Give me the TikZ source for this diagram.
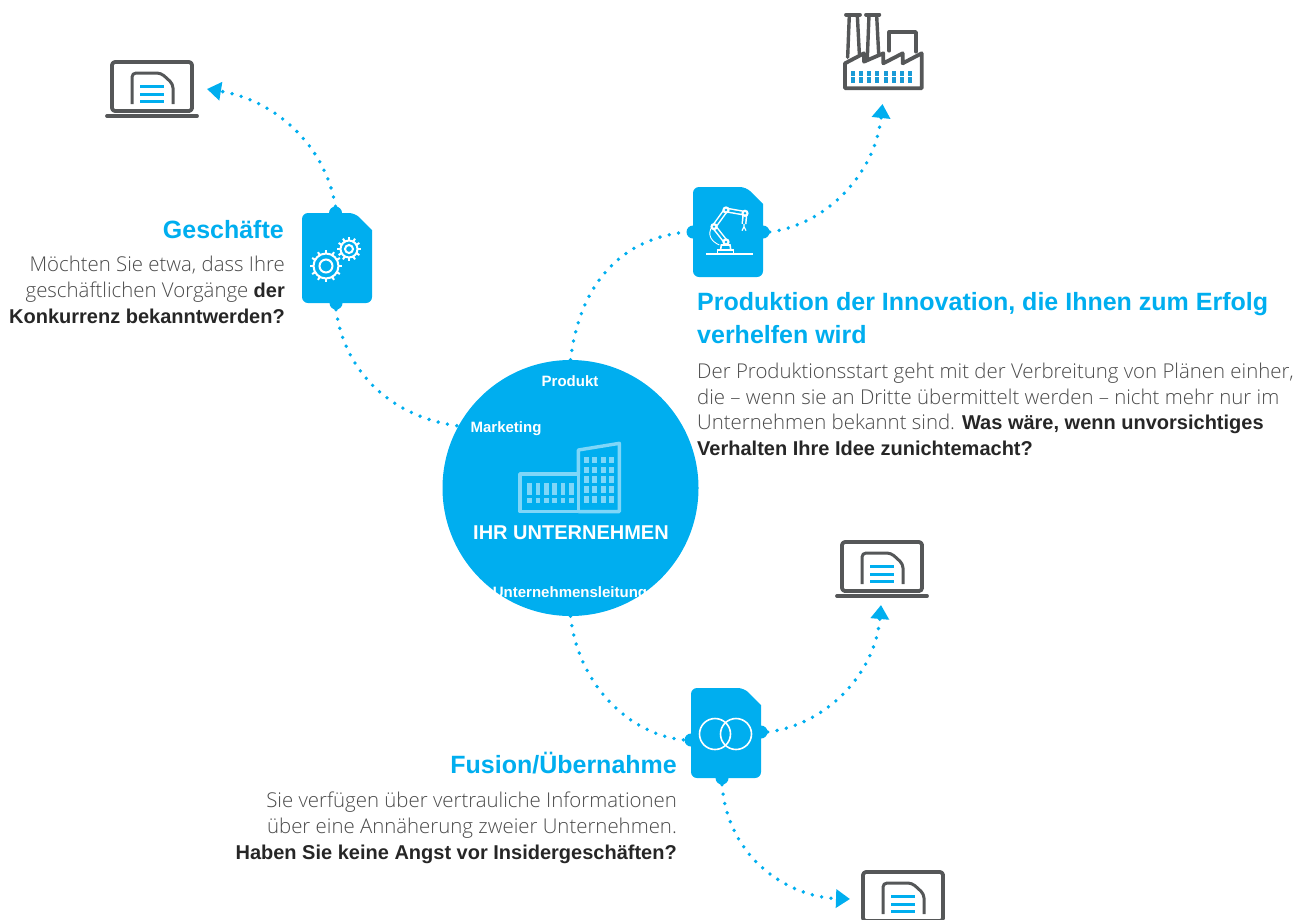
\documentclass[tikz,border=0pt]{standalone}
\usepackage{fontspec}
\usetikzlibrary{arrows.meta}
\setmainfont{Liberation Sans}
\newfontfamily\lightf{Open Sans Light}
\definecolor{bl}{HTML}{00AEEF}
\definecolor{lbl}{HTML}{7FD6F8}
\definecolor{gy}{HTML}{555758}
\definecolor{txt}{HTML}{4A4A4A}
\definecolor{dk}{HTML}{262626}
\definecolor{win}{HTML}{1A9BD7}
\newcommand{\bd}[1]{{\fontsize{20}{25.8}\selectfont\rmfamily\bfseries\color{dk}#1}}
\tikzset{
  x=1pt,y=-1pt,
  dots/.style={bl,line width=3.8pt,line cap=round,dash pattern=on 0pt off 9.5pt},
  arr/.style={dots,-{Triangle[width=18pt,length=14pt,sep=0pt]}},
  doc/.style={fill=bl,draw=none,rounded corners=6pt},
  bump/.style={circle,fill=bl,inner sep=0pt,minimum size=13pt},
  heading/.style={font=\fontsize{25}{33}\selectfont\bfseries,text=bl,inner sep=0pt},
  body/.style={font=\fontsize{20.4}{25.8}\selectfont\lightf,text=txt,inner sep=0pt},
  inlabel/.style={font=\fontsize{15}{18}\selectfont\bfseries,text=white,inner sep=0pt},
  ico/.style={gy,line width=3.8pt,line join=round,line cap=round},
  wl/.style={white,line width=1.6pt},
  pics/laptop/.style={code={
    \draw[ico,rounded corners=3pt] (0,0) rectangle (80,49);
    \draw[ico] (-5,54) -- (85,54);
    \draw[ico,line width=3pt,rounded corners=4pt,line cap=butt] (20,42) -- (20,11) -- (49,11) -- (61,22) -- (61,42);
    \draw[bl,line width=3pt] (28,24) -- (52,24) (28,32) -- (52,32) (28,39) -- (52,39);
  }},
  pics/gear/.style args={#1/#2}{code={
    \draw[wl,line width=2pt] (0,0) circle (#1);
    \draw[wl,line width=2pt] (0,0) circle (#2);
    \foreach \a in {0,30,...,330}{\draw[wl,line width=2pt] (\a:#1) -- (\a:#1+3.5);}
  }}
}
\begin{document}
\begin{tikzpicture}
\useasboundingbox (0,0) rectangle (1313,919);
\clip (0,0) rectangle (1313,919);
% --- main circle
\node[circle,fill=bl,minimum size=256pt,inner sep=0pt] (co) at (570.5,488) {};
% --- documents
\fill[doc] (302,213) -- (355,213) [sharp corners] -- (372,230) [rounded corners=6pt] -- (372,303) -- (302,303) -- cycle;
\node[bump] (gt) at (335.5,213) {};
\node[bump] (gb) at (336,303) {};
\fill[doc] (693,187) -- (746,187) [sharp corners] -- (763,204) [rounded corners=6pt] -- (763,277) -- (693,277) -- cycle;
\node[bump] (rl) at (693,232) {};
\node[bump] (rr) at (763,232) {};
\fill[doc] (691,688) -- (744,688) [sharp corners] -- (761,705) [rounded corners=6pt] -- (761,778) -- (691,778) -- cycle;
\node[bump] (fl) at (691,740) {};
\node[bump] (fr) at (761,732) {};
\node[bump] (fb) at (722,778) {};
% --- targets
\coordinate (t1) at (207,89);
\coordinate (t2) at (882.5,104);
\coordinate (t3) at (881,605);
\coordinate (t4) at (850,899);
% --- connectors
\draw[arr] (gt.north) .. controls (325,145) and (275,100) .. (t1);
\draw[dots] (gb.south) .. controls (345,375) and (395,418) .. (co.151);
\draw[dots] (co.90) .. controls (580,280) and (625,238) .. (rl.west);
\draw[arr] (rr.east) .. controls (825,225) and (875,175) .. (t2);
\draw[dots] (co.270) .. controls (578,685) and (630,735) .. (fl.west);
\draw[arr] (fr.east) .. controls (825,725) and (875,675) .. (t3);
\draw[arr] (fb.south) .. controls (728,860) and (790,897) .. (t4);
% --- laptops
\pic at (112,62) {laptop};
\pic at (842,542) {laptop};
\pic at (863,872) {laptop};
% --- factory
\begin{scope}[shift={(680,0)},x=0.3333pt,y=-0.3333pt]
  \draw[ico] (498,44)--(540,44) (558,44)--(598,44);
  \draw[ico,line width=3.4pt] (508,46)--(503,172) (532,46)--(538,160) (567,46)--(562,175) (590,46)--(596,160);
  \draw[ico] (628,152)--(628,96)--(708,96)--(708,155);
  \draw[ico] (495,265)--(495,190)--(552,160)--(552,185)--(610,160)--(610,190)--(668,160)--(668,190)--(725,160)--(725,265)--cycle;
  \foreach \i in {0,...,7}{
    \fill[win] (513+\i*24.5,213) rectangle ++(12,14);
    \fill[win] (513+\i*24.5,231) rectangle ++(12,17);
  }
\end{scope}
% --- building in circle
\begin{scope}[shift={(440,360)},x=0.3333pt,y=-0.3333pt]
  \draw[lbl,line width=3.4pt,line join=round] (240,342) rectangle (415,455);
  \draw[lbl,line width=3.4pt,line join=round] (415,342)--(415,270)--(538,250)--(538,455)--(415,455);
  \foreach \i in {0,...,5}{
    \fill[lbl] (262+\i*25,370) rectangle ++(14,35);
    \fill[lbl] (262+\i*25,415) rectangle ++(14,14);
  }
  \foreach \c in {432,457,482,507}\foreach \r in {290,320,348,378,408}{
    \fill[lbl] (\c,\r) rectangle ++(15,20);
  }
\end{scope}
% --- gears
\pic at (326,266) {gear={12.5pt/6.5pt}};
\pic at (349,249) {gear={8.5pt/4pt}};
% --- robot arm
\begin{scope}[shift={(680,0)},x=0.3333pt,y=-0.3333pt]
  \draw[wl,line width=2pt] (78,762)--(220,762);
  \draw[wl] (112,762)--(112,750)--(160,750)--(160,762);
  \draw[wl] (122,748) -- (124,735) -- (150,735) -- (152,748);
  \draw[white,line width=5pt,line join=round] (138,726)--(102,680)--(138,630)--(195,640)--(192,672);
  \draw[bl,line width=2pt,line join=round] (138,726)--(102,680)--(138,630)--(195,640)--(192,672);
  \foreach \p in {(138,726),(102,680),(138,630),(195,640)}{
    \fill[white] \p circle (11); \fill[bl] \p circle (4);
  }
  \draw[wl,line width=1.2pt] (186,692)--(192,680)--(198,692) (192,672)--(192,680);
  \draw[wl,line width=0.9pt] (96,680) .. controls (80,705) and (95,725) .. (118,735);
\end{scope}
% --- venn
\draw[wl] (715,734) circle (15.5);
\draw[wl] (736,734) circle (15.5);
% --- circle labels
\node[inlabel,anchor=center] (l1) at (570,381) {Produkt};
\node[inlabel,anchor=center] (l2) at (506,429) {Marketing};
\node[font=\fontsize{20}{24}\selectfont\bfseries,text=white,inner sep=0pt] (l3) at (571,533) {IHR UNTERNEHMEN};
\node[inlabel] (l4) at (570,594) {Unternehmensleitung};
% --- texts
\node[heading,anchor=base east] (h1) at (284,238) {Geschäfte};
\node[body,anchor=north east,align=right] (b1) at (285,256) {Möchten Sie etwa, dass Ihre\\geschäftlichen Vorgänge \bd{der}\\\bd{Konkurrenz bekanntwerden?}};
\node[heading,anchor=north west,align=left] (h2) at (697,292) {Produktion der Innovation, die Ihnen zum Erfolg\\verhelfen wird};
\node[body,anchor=north west,align=left] (b2) at (697,362.5) {Der Produktionsstart geht mit der Verbreitung von Plänen einher,\\die – wenn sie an Dritte übermittelt werden – nicht mehr nur im\\Unternehmen bekannt sind. \bd{Was wäre, wenn unvorsichtiges}\\\bd{Verhalten Ihre Idee zunichtemacht?}};
\node[heading,anchor=base east] (h3) at (677,773) {Fusion/Übernahme};
\node[body,anchor=north east,align=right] (b3) at (677,792) {Sie verfügen über vertrauliche Informationen\\über eine Annäherung zweier Unternehmen.\\\bd{Haben Sie keine Angst vor Insidergeschäften?}};
\end{tikzpicture}
\end{document}
